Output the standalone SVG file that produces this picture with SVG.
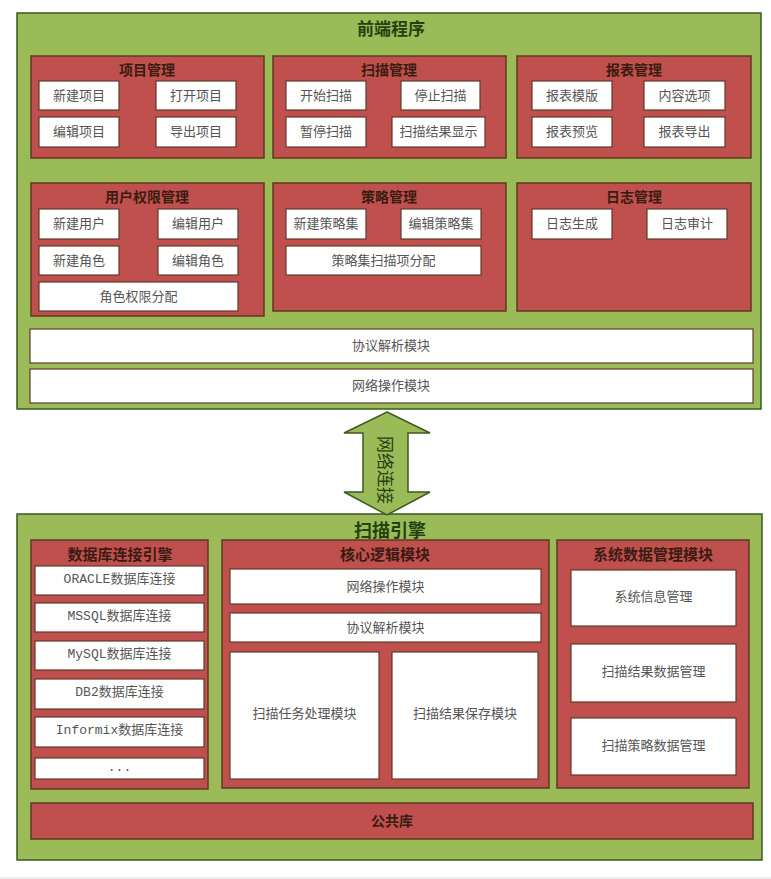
<svg xmlns="http://www.w3.org/2000/svg" width="771" height="879" viewBox="0 0 771 879">
<style>
.bg{fill:#9bbb59;stroke:#3d5a1f;stroke-width:1.5}
.red{fill:#c0504d;stroke:#5e3a1f;stroke-width:1.5}
.wb{fill:#ffffff;stroke:#5e3a2a;stroke-width:1.2}
text{font-family:"Noto Sans CJK SC","Liberation Serif",sans-serif;text-anchor:middle;dominant-baseline:central}
.t1{font-size:17px;font-weight:bold;fill:#24420f}
.t2{font-size:14px;font-weight:bold;fill:#3a1c12}
.t3{font-size:13px;fill:#555555}
.mono{font-family:"Liberation Mono","Noto Sans CJK SC",monospace}
.arr{fill:#9bbb59;stroke:#3d5a1f;stroke-width:1.5}
</style>
<rect x="0" y="0" width="771" height="879" fill="#ffffff"/>
<rect x="0" y="877" width="771" height="2" fill="#efefef"/>

<g id="frontend">
<rect class="bg" x="17" y="13" width="744" height="396"/>
<text class="t1" x="391" y="27">前端程序</text>
</g>

<g id="project-mgmt">
<rect class="red" x="31" y="56" width="233" height="102"/>
<text class="t2" x="147" y="69">项目管理</text>
<rect class="wb" x="39" y="81" width="80" height="29"/><text class="t3" x="79" y="94">新建项目</text>
<rect class="wb" x="156" y="81" width="80" height="29"/><text class="t3" x="196" y="94">打开项目</text>
<rect class="wb" x="39" y="117" width="80" height="30"/><text class="t3" x="79" y="130.5">编辑项目</text>
<rect class="wb" x="156" y="117" width="80" height="30"/><text class="t3" x="196" y="130.5">导出项目</text>
</g>

<g id="scan-mgmt">
<rect class="red" x="273" y="56" width="233" height="102"/>
<text class="t2" x="389" y="69">扫描管理</text>
<rect class="wb" x="286" y="81" width="80" height="29"/><text class="t3" x="326" y="94">开始扫描</text>
<rect class="wb" x="401" y="81" width="79" height="29"/><text class="t3" x="440.5" y="94">停止扫描</text>
<rect class="wb" x="286" y="117" width="80" height="30"/><text class="t3" x="326" y="130.5">暂停扫描</text>
<rect class="wb" x="392" y="117" width="93" height="30"/><text class="t3" x="438.5" y="130.5">扫描结果显示</text>
</g>

<g id="report-mgmt">
<rect class="red" x="517" y="56" width="234" height="102"/>
<text class="t2" x="634" y="69">报表管理</text>
<rect class="wb" x="532" y="81" width="80" height="29"/><text class="t3" x="572" y="94">报表模版</text>
<rect class="wb" x="644" y="81" width="81" height="29"/><text class="t3" x="684.5" y="94">内容选项</text>
<rect class="wb" x="532" y="117" width="80" height="30"/><text class="t3" x="572" y="130.5">报表预览</text>
<rect class="wb" x="644" y="117" width="81" height="30"/><text class="t3" x="684.5" y="130.5">报表导出</text>
</g>

<g id="user-mgmt">
<rect class="red" x="31" y="183" width="233" height="133"/>
<text class="t2" x="147" y="196">用户权限管理</text>
<rect class="wb" x="39" y="209" width="80" height="30"/><text class="t3" x="79" y="222.5">新建用户</text>
<rect class="wb" x="158" y="209" width="80" height="30"/><text class="t3" x="198" y="222.5">编辑用户</text>
<rect class="wb" x="39" y="246" width="80" height="29"/><text class="t3" x="79" y="259">新建角色</text>
<rect class="wb" x="158" y="246" width="80" height="29"/><text class="t3" x="198" y="259">编辑角色</text>
<rect class="wb" x="39" y="282" width="199" height="29"/><text class="t3" x="138.5" y="295">角色权限分配</text>
</g>

<g id="policy-mgmt">
<rect class="red" x="273" y="183" width="233" height="128"/>
<text class="t2" x="389" y="196">策略管理</text>
<rect class="wb" x="286" y="209" width="80" height="30"/><text class="t3" x="326" y="222.5">新建策略集</text>
<rect class="wb" x="401" y="209" width="80" height="30"/><text class="t3" x="441" y="222.5">编辑策略集</text>
<rect class="wb" x="286" y="246" width="195" height="29"/><text class="t3" x="383.5" y="259">策略集扫描项分配</text>
</g>

<g id="log-mgmt">
<rect class="red" x="517" y="183" width="234" height="128"/>
<text class="t2" x="634" y="196">日志管理</text>
<rect class="wb" x="532" y="209" width="80" height="30"/><text class="t3" x="572" y="222.5">日志生成</text>
<rect class="wb" x="647" y="209" width="80" height="30"/><text class="t3" x="687" y="222.5">日志审计</text>
</g>

<g id="fe-protocol">
<rect class="wb" x="30" y="329" width="723" height="34"/><text class="t3" x="391" y="344.5">协议解析模块</text>
</g>
<g id="fe-network">
<rect class="wb" x="30" y="369" width="723" height="34"/><text class="t3" x="391" y="384.5">网络操作模块</text>
</g>

<g id="engine">
<rect class="bg" x="17" y="514" width="745" height="346"/>
<text class="t1" x="390" y="529" style="font-size:18px">扫描引擎</text>
</g>

<g id="connectors">
<polygon class="arr" points="387,412 430,433 408,433 408,492 430,492 387,515 344,492 363,492 363,433 344,433"/>
<text class="t1" x="386" y="470" transform="rotate(90 386 470)" style="font-weight:normal;font-size:17px">网络连接</text>
</g>

<g id="db-engine">
<rect class="red" x="31" y="540" width="177" height="249"/>
<text class="t2" x="120" y="553" style="font-size:15px">数据库连接引擎</text>
<rect class="wb" x="35" y="566" width="169" height="29"/><text class="t3 mono" x="119.5" y="579.5">ORACLE数据库连接</text>
<rect class="wb" x="35" y="603" width="169" height="29"/><text class="t3 mono" x="119.5" y="616.5">MSSQL数据库连接</text>
<rect class="wb" x="35" y="641" width="169" height="29"/><text class="t3 mono" x="119.5" y="654.5">MySQL数据库连接</text>
<rect class="wb" x="35" y="679" width="169" height="30"/><text class="t3 mono" x="119.5" y="692.5">DB2数据库连接</text>
<rect class="wb" x="35" y="717" width="169" height="30"/><text class="t3 mono" x="119.5" y="730.5">Informix数据库连接</text>
<rect class="wb" x="35" y="758" width="169" height="21"/><text class="t3 mono" x="119.5" y="767">...</text>
</g>

<g id="core-logic">
<rect class="red" x="222" y="540" width="327" height="248"/>
<text class="t2" x="385" y="553" style="font-size:15px">核心逻辑模块</text>
<rect class="wb" x="230" y="569" width="311" height="35"/><text class="t3" x="385.5" y="585">网络操作模块</text>
<rect class="wb" x="230" y="613" width="311" height="29"/><text class="t3" x="385.5" y="626">协议解析模块</text>
<rect class="wb" x="230" y="652" width="149" height="127"/><text class="t3" x="304.5" y="712.5">扫描任务处理模块</text>
<rect class="wb" x="392" y="652" width="146" height="127"/><text class="t3" x="465" y="712.5">扫描结果保存模块</text>
</g>

<g id="sys-data">
<rect class="red" x="557" y="540" width="192" height="248"/>
<text class="t2" x="653" y="553" style="font-size:15px">系统数据管理模块</text>
<rect class="wb" x="571" y="570" width="165" height="56"/><text class="t3" x="653.5" y="595.5">系统信息管理</text>
<rect class="wb" x="571" y="644" width="165" height="58"/><text class="t3" x="653.5" y="670.5">扫描结果数据管理</text>
<rect class="wb" x="571" y="718" width="165" height="57"/><text class="t3" x="653.5" y="744.5">扫描策略数据管理</text>
</g>

<g id="common-lib">
<rect class="red" x="31" y="803" width="722" height="36"/>
<text class="t2" x="392" y="820">公共库</text>
</g>
</svg>
